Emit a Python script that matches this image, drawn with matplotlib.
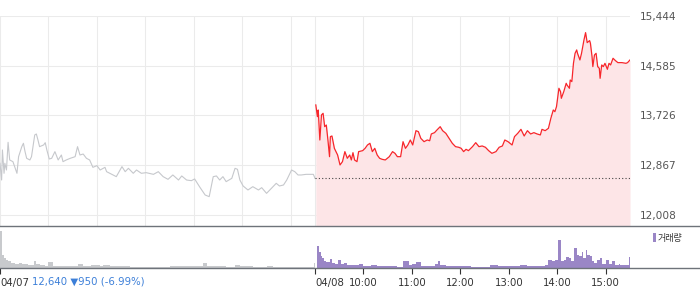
import matplotlib
matplotlib.use('Agg')
import matplotlib.pyplot as plt
import numpy as np
from matplotlib.lines import Line2D
from matplotlib.patches import Rectangle

# minutes after 09:00, previous day (04/07)
t_prev = [0, 2, 3, 5, 6, 8, 10, 12, 16, 21, 23, 27, 29, 31, 33, 37, 39, 43, 45, 47, 49, 54, 56, 58,
          61, 64, 68, 72, 76, 78, 82, 87, 93, 96, 99, 103, 107, 111, 115, 120, 124, 130, 132, 140,
          144, 151, 155, 159, 165, 169, 175, 181, 190, 196, 202, 208, 214, 221, 225, 231, 237, 241,
          247, 254, 259, 264, 268, 272, 276, 280, 287, 291, 294, 297, 301, 307, 313, 320, 324, 330,
          336, 342, 346, 351, 355, 361, 365, 369, 373, 379, 388, 390]
p_prev = [12901, 12612, 13131, 12728, 12901, 12785, 13263, 12958, 12929, 12728, 13015, 13188,
          13246, 13102, 12987, 12958, 13015, 13390, 13407, 13303, 13188, 13217, 13257, 13131,
          12975, 12987, 13102, 12958, 13044, 12929, 12958, 12987, 13015, 13188, 13044, 13061,
          12987, 12958, 12831, 12860, 12785, 12831, 12756, 12699, 12670, 12843, 12756, 12814,
          12728, 12785, 12728, 12739, 12710, 12756, 12670, 12624, 12699, 12612, 12682, 12612,
          12601, 12630, 12497, 12353, 12325, 12670, 12682, 12612, 12670, 12584, 12641, 12814,
          12797, 12612, 12509, 12440, 12497, 12440, 12480, 12382, 12468, 12555, 12509, 12526,
          12612, 12785, 12756, 12699, 12699, 12710, 12710, 12640]

# minutes after 09:00, today (04/08)
t_today = [1, 3, 4, 6, 8, 10, 12, 14, 16, 18, 19, 21, 24, 26, 28, 31, 34, 37, 40, 43, 45, 47, 49,
           52, 54, 59, 62, 65, 68, 71, 74, 77, 80, 83, 87, 92, 96, 99, 102, 106, 109, 112, 115, 118,
           121, 125, 128, 131, 135, 139, 142, 144, 148, 151, 155, 158, 162, 166, 170, 174, 178, 181,
           184, 187, 190, 195, 199, 203, 207, 211, 215, 219, 224, 228, 232, 235, 239, 244, 247, 251,
           255, 259, 263, 267, 271, 275, 279, 281, 285, 289, 292, 295, 297, 299, 302, 304, 305, 308,
           311, 312, 315, 316, 318, 320, 322, 324, 325, 328, 330, 333, 335, 337, 340, 341, 343, 344,
           346, 348, 350, 352, 353, 355, 357, 359, 362, 364, 366, 369, 372, 375, 380, 385, 387, 390]
p_today = [13908, 13706, 13821, 13303, 13735, 13764, 13533, 13562, 13303, 13015, 13361, 13372,
           13159, 13102, 13044, 12872, 12929, 13102, 12987, 13044, 12958, 13084, 12958, 12929,
           13102, 13119, 13159, 13217, 13246, 13102, 13159, 13044, 12987, 12970, 12958, 13015,
           13102, 13073, 13015, 13015, 13274, 13159, 13217, 13303, 13217, 13464, 13447, 13332,
           13274, 13303, 13290, 13407, 13430, 13476, 13533, 13464, 13418, 13332, 13246, 13188,
           13177, 13159, 13102, 13142, 13119, 13188, 13257, 13188, 13200, 13177, 13119, 13073,
           13102, 13177, 13200, 13303, 13274, 13217, 13361, 13418, 13487, 13372, 13464, 13407,
           13430, 13407, 13390, 13487, 13464, 13505, 13677, 13821, 13792, 13879, 14196, 14138,
           14023, 14138, 14282, 14253, 14196, 14339, 14311, 14627, 14800, 14858, 14800, 14685,
           14800, 15030, 15157, 14984, 15019, 14973, 14742, 14570, 14771, 14800, 14570, 14541,
           14368, 14599, 14570, 14627, 14524, 14627, 14599, 14714, 14673, 14639, 14639, 14627,
           14639, 14685]

prev_close = 12640

# volume (relative units)
tv_prev = [0, 2, 3, 5, 7, 10, 14, 19, 23, 27, 31, 35, 39, 42, 45, 49, 56, 60, 66, 74, 82, 89, 96,
           103, 113, 124, 128, 136, 144, 153, 161, 169, 177, 186, 194, 202, 210, 219, 227, 235, 243,
           251, 256, 264, 272, 280, 291, 297, 305, 313, 322, 330, 338, 346, 355, 363, 371, 379, 389]
v_prev = [36.7, 18, 13, 10, 8, 7, 5, 4, 5, 4, 4, 3, 3, 7, 4, 3, 2, 6, 2, 2, 1.7, 1.7, 4, 1.7, 3,
          1.7, 3, 2, 2, 1.7, 1.3, 1.3, 1.3, 1, 0.7, 1.3, 2, 1.7, 1.7, 1.7, 2, 5, 2.3, 2, 1.7, 1.3,
          3, 1.7, 2, 1.3, 1.3, 2, 1.3, 1.3, 1.3, 1.3, 1, 1, 5]
tv_today = [3, 5, 7, 9, 11, 14, 18, 21, 25, 29, 32, 36, 40, 46, 54, 60, 69, 77, 85, 94, 102, 109,
            116, 120, 125, 131, 139, 145, 149, 152, 155, 162, 168, 176, 184, 193, 201, 209, 217,
            226, 234, 242, 248, 254, 263, 271, 279, 285, 289, 294, 297, 301, 304, 308, 311, 314,
            317, 321, 324, 327, 330, 332, 335, 337, 340, 343, 346, 349, 353, 355, 360, 364, 368,
            372, 376, 378, 389]
v_today = [21.7, 16, 11.7, 10, 7, 6, 9, 5, 4, 8, 4, 5, 3, 2.7, 4, 2.3, 2.7, 2, 1.7, 1.7, 1.3, 6.7,
           2.7, 4.3, 6, 2.3, 1.7, 2, 4, 7.3, 3.3, 2, 2, 2, 1.7, 1.3, 1.3, 1.3, 2.7, 1.7, 2, 2, 2.3,
           3.3, 2.3, 1.7, 2, 2.7, 8.3, 6.7, 8.3, 28.3, 6.7, 8.3, 11, 10, 7.3, 20, 12.7, 11.7, 15.7,
           10, 18.3, 13.3, 11.7, 6.7, 5, 8.3, 10, 4, 7.7, 4, 6.7, 3.3, 4, 3.3, 10.7]

y_ticks = [12008, 12867, 13726, 14585, 15444]
x_ticks = [0, 390, 450, 510, 570, 630, 690, 750]
x_labels = ['04/07', '04/08', '10:00', '11:00', '12:00', '13:00', '14:00', '15:00']

W, H = 700, 289
fig = plt.figure(figsize=(7, 2.89), dpi=100)
ax = fig.add_axes([0, 63 / H, 0.9, 210 / H])
vax = fig.add_axes([0, 21 / H, 0.9, 42 / H])

t2 = np.array(t_today) + 390
ax.plot(t_prev, p_prev, color='#c6c8cc', lw=0.8)
ax.fill_between(t2, p_today, 11818, color='#fde5e7', lw=0)
ax.plot(t2, p_today, color='#f7262b', lw=0.9)
ax.hlines(prev_close, 390, 780, colors='#444444', linestyles=(0, (1, 2)), lw=0.8)

ax.set_xlim(0, 780)
ax.set_ylim(11818, 15444)
ax.set_xticks(list(range(0, 361, 60)) + list(range(390, 751, 60)))
ax.tick_params(axis='x', length=0, labelbottom=False)
ax.yaxis.tick_right()
ax.set_yticks(y_ticks)
ax.set_yticklabels([f'{v:,}' for v in y_ticks])
ax.tick_params(axis='y', length=0, pad=7, labelsize=7.6, colors='#555555')
ax.grid(True, color='#ebebeb', lw=0.75)
ax.set_axisbelow(True)
for s in ax.spines.values():
    s.set_visible(False)

# volume bars
w1 = np.append(np.diff(tv_prev), 1)
w2 = np.append(np.diff(tv_today), 1)
vax.bar(tv_prev, v_prev, width=w1, align='edge', color='#c8cacd', lw=0)
vax.bar(np.array(tv_today) + 390, v_today, width=w2, align='edge', color='#9a86c6', lw=0)
vax.set_xlim(0, 780)
vax.set_ylim(0, 42)
vax.set_yticks([])
vax.set_xticks(x_ticks)
vax.set_xticklabels(x_labels)
vax.tick_params(axis='x', length=4, width=0.8, color='#333333', pad=3, labelsize=7.3,
                labelcolor='#333333')
for lab in vax.get_xticklabels()[:2]:
    lab.set_ha('left')
for s in vax.spines.values():
    s.set_visible(False)

fig.add_artist(Line2D([0, 1], [63 / H, 63 / H], color='#6e737a', lw=1.0))
fig.add_artist(Line2D([0, 1], [21 / H, 21 / H], color='#6e737a', lw=1.0))

fig.text(32 / W, 1 - 276 / H, '12,640 \u25bc950 (-6.99%)', color='#3c7fd8', fontsize=7.3, va='top')

fig.add_artist(Rectangle((653 / W, 1 - 242 / H), 3 / W, 9 / H, transform=fig.transFigure,
                         color='#9a86c6', lw=0))
fig.text(658 / W, 1 - 238 / H, '거래량', fontsize=6.5, va='center', color='#333333',
         family=['Noto Sans CJK KR', 'DejaVu Sans'])

fig.savefig('out.png', dpi=100)
